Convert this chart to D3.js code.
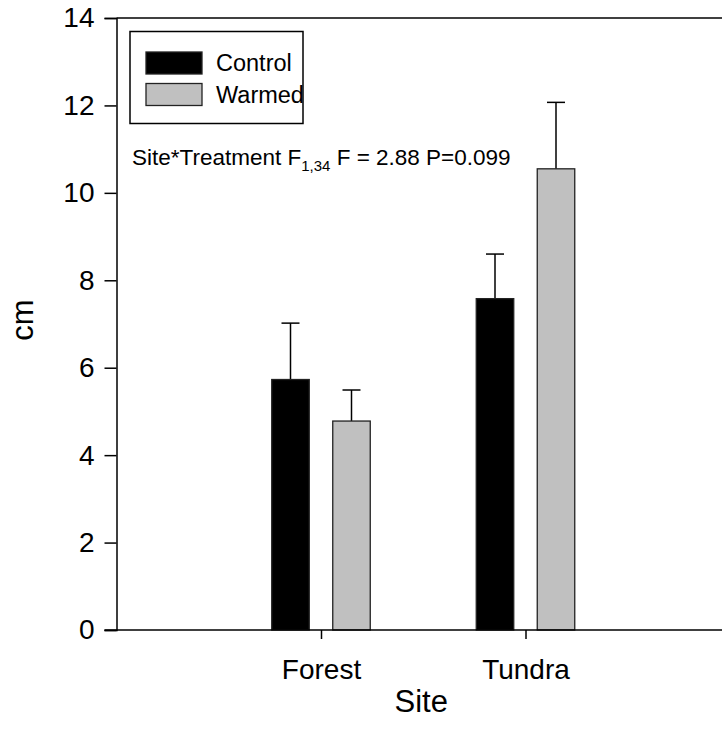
<!DOCTYPE html>
<html><head><meta charset="utf-8">
<script src="https://cdn.jsdelivr.net/npm/d3@7"></script>
<style>body{margin:0;background:#fff;} text{font-family:Arial,"Liberation Sans",sans-serif;}</style>
</head><body>
<svg id="c" width="722" height="743"></svg>
<script>
const sites = ["Forest", "Tundra"];
const treatments = ["Control", "Warmed"];
const controlMean = [5.73, 7.58];
const controlErr = [1.29, 1.02];
const warmedMean = [4.78, 10.55];
const warmedErr = [0.71, 1.52];
const yTicks = [0, 2, 4, 6, 8, 10, 12, 14];
const colors = {Control: "#000000", Warmed: "#c0c0c0"};

const svg = d3.select("#c");
const x = d3.scaleLinear().domain([0, 3]).range([116.5, 730]);
const y = d3.scaleLinear().domain([0, 14]).range([630, 18]);
const barW = 37.5, off = 30.5;
const FONT = "Arial, 'Liberation Sans', sans-serif";

const series = [
  {name: "Control", mean: controlMean, err: controlErr, dx: -off},
  {name: "Warmed", mean: warmedMean, err: warmedErr, dx: off}
];

// frame top line
svg.append("line").attr("x1", x(0)).attr("x2", x(3)).attr("y1", y(14)).attr("y2", y(14))
  .attr("stroke", "#000").attr("stroke-width", 1.5);

series.forEach(s => {
  sites.forEach((site, i) => {
    const cx = x(i + 1) + s.dx;
    svg.append("line").attr("x1", cx).attr("x2", cx)
      .attr("y1", y(s.mean[i])).attr("y2", y(s.mean[i] + s.err[i]))
      .attr("stroke", "#000").attr("stroke-width", 1.5);
    svg.append("line").attr("x1", cx - 9).attr("x2", cx + 9)
      .attr("y1", y(s.mean[i] + s.err[i])).attr("y2", y(s.mean[i] + s.err[i]))
      .attr("stroke", "#000").attr("stroke-width", 1.5);
    svg.append("rect").attr("x", cx - barW / 2).attr("width", barW)
      .attr("y", y(s.mean[i])).attr("height", y(0) - y(s.mean[i]))
      .attr("fill", colors[s.name]).attr("stroke", "#222").attr("stroke-width", 1.3);
  });
});

// y axis
const ya = svg.append("g").attr("transform", `translate(${x(0)},0)`)
  .call(d3.axisLeft(y).tickValues(yTicks).tickSize(12).tickPadding(10).tickFormat(d3.format("d")));
ya.select(".domain").attr("stroke-width", 1.5);
ya.selectAll(".tick line").attr("stroke-width", 1.5);
ya.selectAll("text").attr("font-size", 28).attr("font-family", FONT).attr("fill", "#000");

// x axis
const xa = svg.append("g").attr("transform", `translate(0,${y(0)})`)
  .call(d3.axisBottom(x).tickValues([1, 2]).tickSize(9).tickPadding(20).tickFormat((d) => sites[d - 1]));
xa.select(".domain").attr("stroke-width", 1.5).attr("d", `M${x(0) - 12},0H${x(3)}`);
xa.selectAll(".tick line").attr("stroke-width", 1.5);
xa.selectAll("text").attr("font-size", 28).attr("font-family", FONT).attr("fill", "#000");

// axis titles
svg.append("text").attr("x", (x(1) + x(2)) / 2 - 2).attr("y", 712).attr("text-anchor", "middle")
  .attr("font-size", 31).text("Site");
svg.append("text").attr("transform", "translate(33,320) rotate(-90)").attr("text-anchor", "middle")
  .attr("font-size", 31).text("cm");

// legend
const lg = svg.append("g");
lg.append("rect").attr("x", 130).attr("y", 31.5).attr("width", 173).attr("height", 92)
  .attr("fill", "#fff").attr("stroke", "#000").attr("stroke-width", 1.5);
treatments.forEach((t, i) => {
  const yy = 52 + i * 31.5;
  lg.append("rect").attr("x", 146).attr("y", yy).attr("width", 56).attr("height", 22)
    .attr("fill", colors[t]).attr("stroke", "#222").attr("stroke-width", 1.3);
  lg.append("text").attr("x", 216).attr("y", yy + 19).attr("font-size", 23.5).text(t);
});

// annotation
const ann = svg.append("text").attr("x", 132).attr("y", 165).attr("font-size", 22.5);
ann.append("tspan").text("Site*Treatment F");
ann.append("tspan").attr("font-size", 15).attr("dy", 6).text("1,34");
ann.append("tspan").attr("dy", -6).text(" F = 2.88 P=0.099");
</script>
</body></html>
